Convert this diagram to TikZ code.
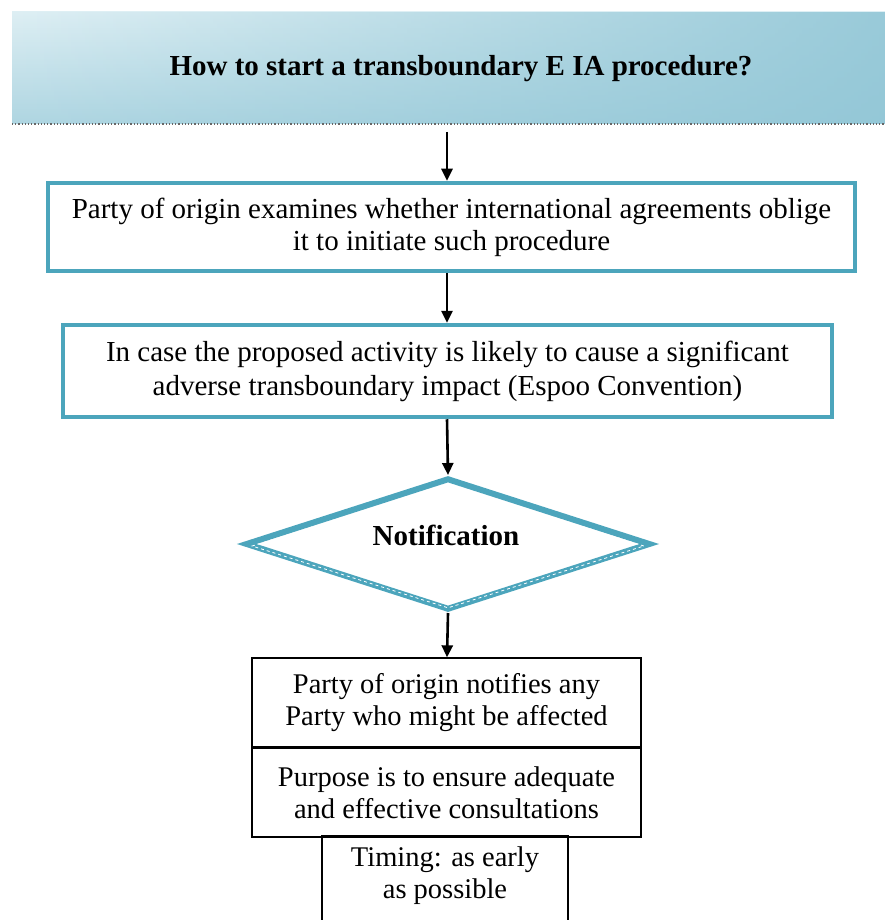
\documentclass[tikz,border=0pt]{standalone}
\usepackage{fontspec}
\setmainfont{Liberation Serif}
\usetikzlibrary{shapes.geometric,arrows.meta,fadings}
\definecolor{teal1}{RGB}{76,165,188}
\definecolor{bannerlight}{RGB}{222,239,244}
\definecolor{bannermid}{RGB}{175,214,226}
\definecolor{bannerdark}{RGB}{145,198,214}
\tikzset{
  tealbox/.style={draw=teal1,line width=4.5pt,fill=white,align=center,inner sep=0pt,font=\fontsize{29}{32}\selectfont},
  plainbox/.style={draw=black,line width=1.3pt,fill=white,align=center,inner sep=0pt,font=\fontsize{28.5}{32}\selectfont},
  flow/.style={draw=black,line width=2.6pt,-{Triangle[length=12pt,width=11pt]}}
}
\begin{document}
\begin{tikzpicture}[x=1pt,y=1pt]
\useasboundingbox (0,0) rectangle (884,-920);
% banner
\node[rectangle,inner sep=0pt,minimum width=880pt,minimum height=112pt,
  top color=bannerlight,bottom color=bannermid] (banner) at (452,-68) {};
\fill[bannerdark,path fading=west,opacity=0.9] (12,-12) rectangle (892,-124);
\draw[black!60,line width=1.2pt,dotted] (12,-124) -- (892,-124);
\node[font=\bfseries\fontsize{29}{32}\selectfont] (title) at (461,-69) {How to start a transboundary E IA procedure?};
% boxes
\node[tealbox,minimum width=807pt,minimum height=88pt] (b1) at (451.5,-227)
  {Party of origin examines whether international agreements oblige\\it to initiate such procedure};
\node[tealbox,minimum width=769pt,minimum height=92pt,font=\fontsize{29}{34}\selectfont] (b2) at (447.5,-371)
  {In case the proposed activity is likely to cause a significant\\adverse transboundary impact (Espoo Convention)};
\node[diamond,draw=teal1,line width=6pt,fill=white,minimum width=405pt,minimum height=132pt,inner sep=0pt] (d) at (448,-544) {};
\node[diamond,draw=white,line width=0.8pt,dashed,minimum width=392pt,minimum height=124pt,inner sep=0pt] (dinner) at (448,-546) {};
\node[font=\bfseries\fontsize{29}{32}\selectfont] (dtext) at (446,-535) {Notification};
\node[plainbox,minimum width=389pt,minimum height=89pt] (n1) at (446.5,-702.5)
  {Party of origin notifies any\\Party who might be affected};
\node[plainbox,minimum width=389pt,minimum height=88pt,anchor=north] (n2) at (n1.south)
  {Purpose is to ensure adequate\\and effective consultations};
\node[plainbox,minimum width=246pt,minimum height=100pt,anchor=north] (n3) at (445,-835) {};
\node[font=\fontsize{28.5}{32}\selectfont,align=center] (n3text) at (445,-876) {Timing: as early\\as possible};
\draw[plainbox] (n2.south west) -- (n2.south east);
% arrows
\draw[flow] (447,-132) -- (b1.north -| 447,0);
\draw[flow] (b1.south -| 447,0) -- (b2.north -| 447,0);
\draw[flow] (b2.south -| 447,0) -- (d.north);
\draw[flow] (d.south) -- (n1.north -| 447,0);
\end{tikzpicture}
\end{document}
